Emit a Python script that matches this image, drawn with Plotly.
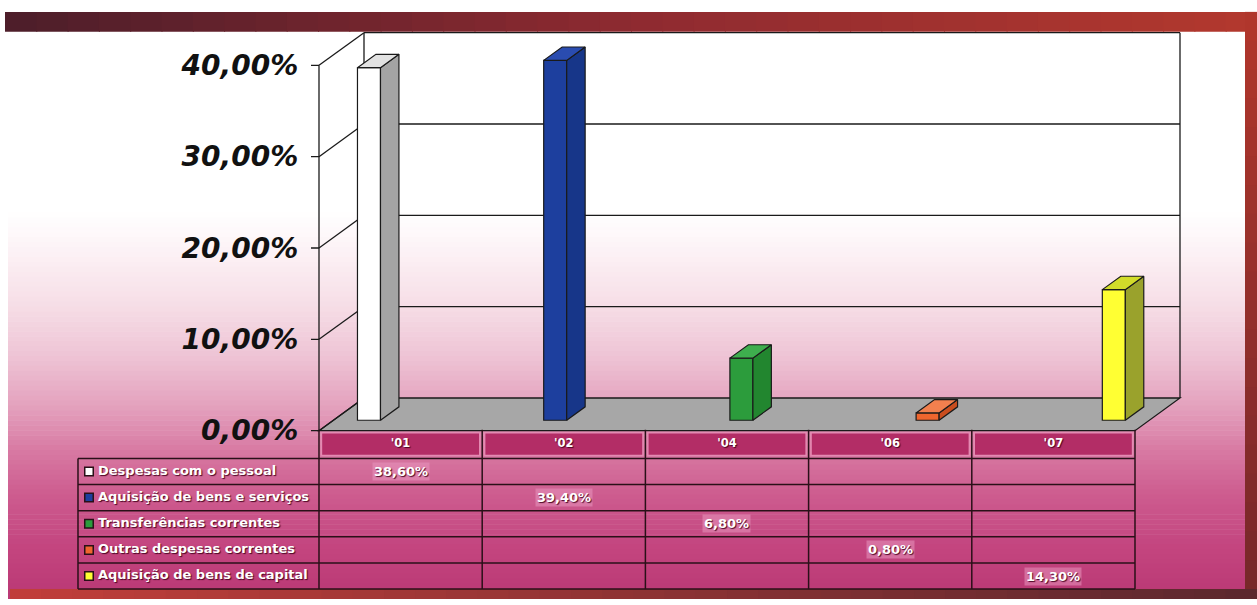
import plotly.graph_objects as go

# ---------------- data ----------------
categories = ["'01", "'02", "'04", "'06", "'07"]
series_names = [
    "Despesas com o pessoal",
    "Aquisição de bens e serviços",
    "Transferências correntes",
    "Outras despesas correntes",
    "Aquisição de bens de capital",
]
despesas_pessoal = [38.6, None, None, None, None]
aquisicao_bens_servicos = [None, 39.4, None, None, None]
transferencias_correntes = [None, None, 6.8, None, None]
outras_despesas_correntes = [None, None, None, 0.8, None]
aquisicao_bens_capital = [None, None, None, None, 14.3]
series_values = [despesas_pessoal, aquisicao_bens_servicos, transferencias_correntes,
                 outras_despesas_correntes, aquisicao_bens_capital]
y_ticks = [0, 10, 20, 30, 40]
y_tick_labels = ["0,00%", "10,00%", "20,00%", "30,00%", "40,00%"]

# ---------------- styles ----------------
front_colors = ["#ffffff", "#1d3f9e", "#2c9c3c", "#f0662e", "#ffff33"]
side_colors = ["#a4a4a4", "#173689", "#22862f", "#c94d1e", "#9aa22c"]
top_colors = ["#e2e2e2", "#2a4cb0", "#3eae4e", "#f2804e", "#d2dc2a"]
EDGE = "#1a1a1a"

W, H = 1257, 605
PXX, X0PX = 163.2, 319.0
PXY, Y0PX = 9.225, 435.0
DX, DY = 45 / PXX, 33 / PXY
SLOT = 0.141
BW = 0.141
F1, FD = 0.32, 0.41

ncat = len(categories)
nser = len(series_names)

XR = [-0.06, ncat + DX + 0.05]
YR = [-1.2, 40 + DY + 0.8]

def xdom(lo, hi):
    return [(X0PX + lo * PXX) / W, (X0PX + hi * PXX) / W]

def ydom(lo, hi):
    return [(H - (Y0PX - lo * PXY)) / H, (H - (Y0PX - hi * PXY)) / H]

RPX = 26.4
HDR = 29.0
T_TOP = 434.0
TX0 = (78 - X0PX) / PXX
XR2 = [-1.52, ncat + 0.04]
YR2 = [595 + 3 - T_TOP, -3]
ydom2 = [(H - (T_TOP + YR2[0])) / H, (H - (T_TOP + YR2[1])) / H]

fig = go.Figure()
shapes = []

def lerp(c1, c2, t):
    return tuple(int(round(a + (b - a) * t)) for a, b in zip(c1, c2))

grad_stops = [(0, (255, 255, 255)), (215, (255, 255, 255)), (260, (252, 240, 244)),
              (310, (246, 221, 230)), (360, (238, 196, 213)), (410, (228, 162, 190)),
              (455, (216, 122, 163)), (500, (205, 92, 143)), (550, (196, 70, 128)),
              (605, (186, 56, 116))]

def grad_color(y):
    for (y1, c1), (y2, c2) in zip(grad_stops[:-1], grad_stops[1:]):
        if y1 <= y <= y2:
            return lerp(c1, c2, (y - y1) / (y2 - y1) if y2 > y1 else 0)
    return grad_stops[-1][1]

step = 5
for y in range(200, 605, step):
    c = grad_color(y + step / 2)
    shapes.append(dict(type="rect", xref="paper", yref="paper", layer="below",
                       x0=8 / W, x1=1, y0=(H - y - step) / H, y1=(H - y + 0.5) / H,
                       fillcolor="rgb(%d,%d,%d)" % c, line=dict(width=0)))

# frame bands
nseg = 40
for i in range(nseg):
    x0 = 5 + (1252 * i / nseg)
    x1 = 5 + (1252 * (i + 1) / nseg) + 1
    t = i / (nseg - 1)
    if t < 0.5:
        c = lerp((78, 30, 42), (142, 42, 48), t / 0.5)
    else:
        c = lerp((142, 42, 48), (178, 56, 46), (t - 0.5) / 0.5)
    shapes.append(dict(type="rect", xref="paper", yref="paper", layer="above",
                       x0=x0 / W, x1=x1 / W, y0=(H - 32) / H, y1=(H - 12) / H,
                       fillcolor="rgb(%d,%d,%d)" % c, line=dict(width=0)))
nseg2 = 20
for i in range(nseg2):
    y0 = 12 + 583 * i / nseg2
    y1 = 12 + 583 * (i + 1) / nseg2 + 1
    c = lerp((176, 54, 44), (120, 40, 42), i / (nseg2 - 1))
    shapes.append(dict(type="rect", xref="paper", yref="paper", layer="above",
                       x0=1245 / W, x1=1, y0=(H - y1) / H, y1=(H - y0) / H,
                       fillcolor="rgb(%d,%d,%d)" % c, line=dict(width=0)))
for i in range(nseg):
    x0 = 10 + 1247 * i / nseg
    x1 = 10 + 1247 * (i + 1) / nseg + 1
    c = lerp((192, 62, 58), (92, 40, 46), i / (nseg - 1))
    shapes.append(dict(type="rect", xref="paper", yref="paper", layer="above",
                       x0=x0 / W, x1=x1 / W, y0=0, y1=(H - 595) / H,
                       fillcolor="rgb(%d,%d,%d)" % c, line=dict(width=0)))

# ---------------- 3D frame (floor + walls) ----------------
LINE = dict(color=EDGE, width=1.3)
shapes.append(dict(type="path", xref="x", yref="y", layer="below",
                   path=f"M 0,0 L {DX},{DY} L {ncat + DX},{DY} L {ncat},0 Z",
                   fillcolor="#a7a7a7", line=LINE))
top_v = max(y_ticks)
for v in y_ticks:
    shapes.append(dict(type="line", xref="x", yref="y", layer="below",
                       x0=0, y0=v, x1=DX, y1=v + DY, line=LINE))
    if v > 0:
        shapes.append(dict(type="line", xref="x", yref="y", layer="below",
                           x0=DX, y0=v + DY, x1=ncat + DX, y1=v + DY, line=LINE))
    shapes.append(dict(type="line", xref="x", yref="y", layer="below",
                       x0=-8 / PXX, y0=v, x1=0, y1=v, line=LINE))
shapes.append(dict(type="line", xref="x", yref="y", layer="below",
                   x0=0, y0=0, x1=0, y1=top_v, line=LINE))
shapes.append(dict(type="line", xref="x", yref="y", layer="below",
                   x0=DX, y0=DY, x1=DX, y1=top_v + DY, line=LINE))
shapes.append(dict(type="line", xref="x", yref="y", layer="below",
                   x0=ncat + DX, y0=DY, x1=ncat + DX, y1=top_v + DY, line=LINE))

# ---------------- bars ----------------
for s, vals in enumerate(series_values):
    for c, v in enumerate(vals):
        if v is None:
            continue
        xc = c + 0.5 + (s - (nser - 1) / 2) * SLOT + F1 * DX
        b0 = F1 * DY
        xl, xr = xc - BW / 2, xc + BW / 2
        ddx, ddy = FD * DX, FD * DY
        fig.add_trace(go.Bar(x=[xc], y=[v], base=[b0], width=[BW],
                             marker=dict(color=front_colors[s], line=dict(color=EDGE, width=1.2)),
                             xaxis="x", yaxis="y", showlegend=False, name=series_names[s]))
        fig.add_trace(go.Scatter(
            x=[xr, xr + ddx, xr + ddx, xr, xr],
            y=[b0, b0 + ddy, b0 + ddy + v, b0 + v, b0],
            fill="toself", fillcolor=side_colors[s], mode="lines",
            line=dict(color=EDGE, width=1.2), showlegend=False, hoverinfo="skip"))
        fig.add_trace(go.Scatter(
            x=[xl, xr, xr + ddx, xl + ddx, xl],
            y=[b0 + v, b0 + v, b0 + v + ddy, b0 + v + ddy, b0 + v],
            fill="toself", fillcolor=top_colors[s], mode="lines",
            line=dict(color=EDGE, width=1.2), showlegend=False, hoverinfo="skip"))

# ---------------- data table ----------------
row_edges = [0, HDR] + [HDR + k * RPX for k in range(1, nser + 1)]
row_mid = [(row_edges[i] + row_edges[i + 1]) / 2 for i in range(nser + 1)]

TLINE = dict(color="#2a1018", width=1.5)
for c in range(ncat):
    shapes.append(dict(type="rect", xref="x2", yref="y2", layer="below",
                       x0=c + 0.015, x1=c + 1 - 0.015, y0=3, y1=HDR - 3,
                       fillcolor="#b32d66", line=dict(color="#e48ab2", width=1.5)))
for r in row_edges[1:]:
    shapes.append(dict(type="line", xref="x2", yref="y2", layer="above",
                       x0=TX0, x1=ncat, y0=r, y1=r, line=TLINE))
shapes.append(dict(type="line", xref="x2", yref="y2", layer="above",
                   x0=TX0, x1=TX0, y0=HDR, y1=row_edges[-1], line=TLINE))
for c in range(ncat + 1):
    shapes.append(dict(type="line", xref="x2", yref="y2", layer="above",
                       x0=c, x1=c, y0=0, y1=row_edges[-1], line=TLINE))

SHADOW = "1px 1px 1px rgba(70,0,30,0.95)"
fig.add_trace(go.Scatter(
    x=[c + 0.5 for c in range(ncat)], y=[row_mid[0]] * ncat, text=categories,
    mode="text", textfont=dict(family="DejaVu Sans", size=11.5, color="white",
                               weight="bold", shadow=SHADOW),
    xaxis="x2", yaxis="y2", cliponaxis=False, showlegend=False, hoverinfo="skip"))
fig.add_trace(go.Scatter(
    x=[TX0 + 11 / PXX] * nser, y=row_mid[1:], mode="markers",
    marker=dict(symbol="square", size=8.5, color=front_colors,
                line=dict(color="#2a1018", width=1.5)),
    xaxis="x2", yaxis="y2", cliponaxis=False, showlegend=False, hoverinfo="skip"))
fig.add_trace(go.Scatter(
    x=[TX0 + 20 / PXX] * nser, y=row_mid[1:], text=series_names,
    mode="text", textposition="middle right",
    textfont=dict(family="DejaVu Sans", size=13, color="white",
                  weight="bold", shadow=SHADOW),
    xaxis="x2", yaxis="y2", cliponaxis=False, showlegend=False, hoverinfo="skip"))

annotations = []
for s, vals in enumerate(series_values):
    for c, v in enumerate(vals):
        if v is None:
            continue
        annotations.append(dict(
            xref="x2", yref="y2", x=c + 0.5, y=row_mid[s + 1], showarrow=False,
            text=f"{v:.2f}".replace(".", ",") + "%",
            font=dict(family="DejaVu Sans", size=13, color="white",
                      weight="bold", shadow=SHADOW),
            bgcolor="rgba(232,150,190,0.55)", borderpad=1))

fig.update_layout(
    width=W, height=H, margin=dict(l=0, r=0, t=0, b=0),
    paper_bgcolor="white", plot_bgcolor="rgba(0,0,0,0)",
    barmode="overlay", showlegend=False,
    shapes=shapes, annotations=annotations,
    xaxis=dict(domain=xdom(*XR), range=XR, visible=False, anchor="y"),
    yaxis=dict(domain=ydom(*YR), range=YR, anchor="x", showgrid=False, zeroline=False,
               showline=False, ticks="", tickvals=y_ticks, ticktext=y_tick_labels,
               ticklabelstandoff=10,
               tickfont=dict(family="DejaVu Sans", size=28, color="#111111",
                             weight="bold", style="italic")),
    xaxis2=dict(domain=xdom(*XR2), range=XR2, visible=False, anchor="y2"),
    yaxis2=dict(domain=ydom2, range=YR2, visible=False, anchor="x2"),
)

fig.write_html("out.html")
